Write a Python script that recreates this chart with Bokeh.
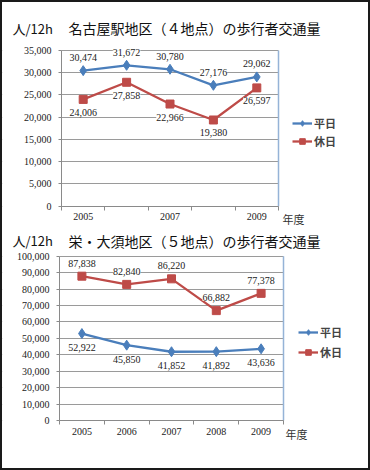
from bokeh.plotting import figure
from bokeh.models import (ColumnDataSource, FixedTicker, NumeralTickFormatter, Range1d,
                          Label, Legend, LegendItem)
from bokeh.layouts import column
from bokeh.core.properties import value
from bokeh.embed import file_html
from bokeh.resources import INLINE

# ---------------- data ----------------
years = ["2005", "2006", "2007", "2008", "2009"]
series_names = ["平日", "休日"]
unit_label = "人/12h"
xaxis_unit = "年度"

top_title = "名古屋駅地区（４地点）の歩行者交通量"
top_weekday = [30474, 31672, 30780, 27176, 29062]
top_holiday = [24006, 27858, 22966, 19380, 26597]
top_yticks = [0, 5000, 10000, 15000, 20000, 25000, 30000, 35000]
top_shown_years = ["2005", "2007", "2009"]

bottom_title = "栄・大須地区（５地点）の歩行者交通量"
bottom_weekday = [52922, 45850, 41852, 41892, 43636]
bottom_holiday = [87838, 82840, 86220, 66882, 77378]
bottom_yticks = [0, 10000, 20000, 30000, 40000, 50000, 60000, 70000, 80000, 90000, 100000]
bottom_shown_years = ["2005", "2006", "2007", "2008", "2009"]

# ---------------- style ----------------
BLUE = "#4A7EBB"
RED = "#BE4B48"
GRID = "#9a9a9a"
AXIS = "#8a8a8a"
FRAME_BLUE = "#95B3D7"
SERIF = "Liberation Serif"
JP = "Noto Sans CJK JP"
FIG_W = 366


def make_chart(title, weekday, holiday, yticks, shown, fig_h, area, head_y, unit_x, title_x,
               nendo_xy, legend_xy, legend_spacing, wk_off, hol_off):
    """area = (left, top, right, bottom) of the plot area in figure pixels."""
    n = len(years)
    ymax = yticks[-1]
    left, top, right, bottom = area
    upx = n / (right - left)
    upy = ymax / (bottom - top)

    def X(px):
        return (px - left) * upx

    def Y(py):
        return (bottom - py) * upy

    p = figure(width=FIG_W, height=fig_h, output_backend="svg", toolbar_location=None,
               x_range=Range1d(X(0), X(FIG_W)), y_range=Range1d(Y(fig_h), Y(0)),
               min_border=0, min_border_left=0, min_border_right=0,
               min_border_top=0, min_border_bottom=0)
    p.outline_line_color = None
    p.background_fill_color = "white"
    p.border_fill_color = "white"

    # grid lines only inside the plot area: mask the outside with white
    p.quad(left=[X(0), n], right=[0, X(FIG_W)], bottom=[Y(fig_h)] * 2, top=[Y(0)] * 2,
           fill_color="white", line_color=None)

    xs = [i + 0.5 for i in range(n)]
    xa = p.xaxis[0]
    xa.fixed_location = 0
    xa.bounds = (0, n)
    xa.ticker = FixedTicker(ticks=[i + 0.5 for i, y in enumerate(years) if y in shown],
                            minor_ticks=list(range(n + 1)))
    xa.major_label_overrides = {i + 0.5: y for i, y in enumerate(years)}
    xa.major_tick_line_color = None
    xa.major_tick_out = 0
    xa.major_tick_in = 0
    xa.minor_tick_in = 0
    xa.minor_tick_out = 4
    xa.minor_tick_line_color = AXIS
    xa.axis_line_color = AXIS
    xa.major_label_standoff = 3
    xa.major_label_text_font = SERIF
    xa.major_label_text_font_size = "10px"
    xa.major_label_text_color = "#222222"

    ya = p.yaxis[0]
    ya.fixed_location = 0
    ya.bounds = (0, ymax)
    ya.ticker = FixedTicker(ticks=yticks)
    ya.formatter = NumeralTickFormatter(format="0,0")
    ya.minor_tick_line_color = None
    ya.major_tick_in = 0
    ya.major_tick_out = 3
    ya.major_tick_line_color = AXIS
    ya.axis_line_color = AXIS
    ya.major_label_standoff = 7
    ya.major_label_text_font = SERIF
    ya.major_label_text_font_size = "10px"
    ya.major_label_text_color = "#222222"

    p.xgrid.grid_line_color = None
    p.ygrid.grid_line_color = GRID
    p.ygrid.grid_line_width = 1
    p.ygrid.ticker = FixedTicker(ticks=yticks)

    # light-blue right edge of the plot area
    p.segment(x0=[n], y0=[0], x1=[n], y1=[ymax], line_color=FRAME_BLUE, line_width=1.5)

    src = ColumnDataSource(dict(
        x=xs, wk=weekday, hol=holiday,
        wk_txt=[f"{v:,}" for v in weekday], hol_txt=[f"{v:,}" for v in holiday]))

    l1 = p.line("x", "wk", source=src, line_color=BLUE, line_width=2.3)
    s1 = p.scatter("x", "wk", source=src, marker="diamond", size=10, color=BLUE)
    l2 = p.line("x", "hol", source=src, line_color=RED, line_width=2.3)
    s2 = p.scatter("x", "hol", source=src, marker="square", size=8, color=RED)

    for col, txt, off in (("wk", "wk_txt", wk_off), ("hol", "hol_txt", hol_off)):
        p.text("x", col, text=txt, source=src, y_offset=off, text_align="center",
               text_baseline="middle", text_font=value(SERIF), text_font_size="10px",
               text_color="#222222", background_fill_color="white")

    # texts around the plot area
    p.add_layout(Label(x=X(unit_x), y=Y(head_y), text=unit_label, text_font=JP,
                       text_font_size="13px", text_color="#111111",
                       text_align="left", text_baseline="middle"))
    p.add_layout(Label(x=X(title_x), y=Y(head_y), text=title, text_font=JP,
                       text_font_size="14px", text_color="#111111",
                       text_align="left", text_baseline="middle"))
    p.add_layout(Label(x=X(nendo_xy[0]), y=Y(nendo_xy[1]), text=xaxis_unit, text_font=JP,
                       text_font_size="11px", text_color="#333333",
                       text_align="left", text_baseline="middle"))

    legend = Legend(items=[LegendItem(label=series_names[0], renderers=[l1, s1]),
                           LegendItem(label=series_names[1], renderers=[l2, s2])],
                    location=legend_xy, orientation="vertical")
    legend.border_line_color = None
    legend.background_fill_alpha = 0
    legend.label_text_font = JP
    legend.label_text_font_style = "bold"
    legend.label_text_font_size = "11px"
    legend.glyph_width = 20
    legend.glyph_height = 14
    legend.label_height = 14
    legend.spacing = legend_spacing
    legend.padding = 0
    legend.margin = 0
    legend.label_standoff = 2
    p.add_layout(legend)
    return p


p1 = make_chart(top_title, top_weekday, top_holiday, top_yticks, top_shown_years,
                fig_h=226, area=(59, 48, 276, 203.7), head_y=25.5,
                unit_x=10, title_x=66, nendo_xy=(280, 216.3),
                legend_xy=(290, 79), legend_spacing=2, wk_off=-13, hol_off=13)
p2 = make_chart(bottom_title, bottom_weekday, bottom_holiday, bottom_yticks, bottom_shown_years,
                fig_h=240, area=(57, 27.7, 281, 192), head_y=12,
                unit_x=10, title_x=66, nendo_xy=(283, 205),
                legend_xy=(296, 108), legend_spacing=4, wk_off=14, hol_off=-13)

layout = column(p1, p2, styles={"border": "2px solid #1a1a1a"})
open("out.html", "w").write(file_html(layout, INLINE))
